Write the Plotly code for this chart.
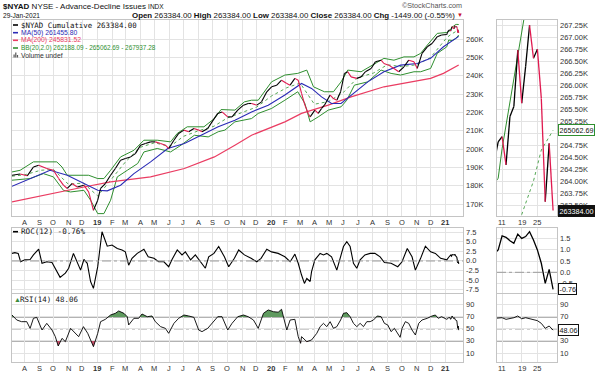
import plotly.graph_objects as go
import pandas as pd

# ---------------- data (values in thousands for NYAD-based series) ----------------
nyad_dates = ["2018-07-06","2018-07-23","2018-08-07","2018-08-20","2018-08-31","2018-09-17","2018-10-01",
    "2018-10-12","2018-10-22","2018-10-30","2018-11-09","2018-11-20","2018-12-04","2018-12-14","2018-12-24",
    "2019-01-02","2019-01-08","2019-01-18","2019-01-29","2019-02-08","2019-02-19","2019-03-01","2019-03-12",
    "2019-03-22","2019-04-02","2019-04-12","2019-04-23","2019-05-03","2019-05-14","2019-05-24","2019-05-31",
    "2019-06-11","2019-06-21","2019-07-02","2019-07-12","2019-07-23","2019-08-02","2019-08-09","2019-08-21",
    "2019-08-30","2019-09-11","2019-09-20","2019-10-02","2019-10-11","2019-10-23","2019-11-04","2019-11-14",
    "2019-11-21","2019-12-02","2019-12-12","2019-12-23","2020-01-02","2020-01-13","2020-01-23","2020-02-03",
    "2020-02-10","2020-02-20","2020-02-27","2020-03-05","2020-03-12","2020-03-19","2020-03-23","2020-04-02",
    "2020-04-09","2020-04-16","2020-04-22","2020-05-04","2020-05-11","2020-05-18","2020-05-26","2020-06-03",
    "2020-06-10","2020-06-17","2020-06-29","2020-07-08","2020-07-17","2020-07-29","2020-08-07","2020-08-19",
    "2020-08-25","2020-09-04","2020-09-15","2020-09-25","2020-10-06","2020-10-16","2020-10-27","2020-11-03",
    "2020-11-13","2020-11-24","2020-12-04","2020-12-15","2020-12-24","2021-01-04","2021-01-05","2021-01-06",
    "2021-01-07","2021-01-08","2021-01-11","2021-01-12","2021-01-13","2021-01-14","2021-01-15","2021-01-19",
    "2021-01-20","2021-01-21","2021-01-22","2021-01-25","2021-01-26","2021-01-27","2021-01-28","2021-01-29"]
nyad = [185.8,186.5,185.5,190.3,191.3,189.5,188.5,184.0,180.4,178.6,181.3,179.4,180.4,176.7,166.7,
    172.2,178.6,181.3,185.8,189.5,194.0,194.9,195.8,197.6,202.2,203.1,204.0,204.0,203.1,202.2,200.4,
    204.9,208.6,210.4,209.5,211.3,210.4,209.5,211.3,214.9,219.5,220.3,217.6,217.6,221.3,224.0,224.9,
    224.9,224.0,225.8,231.3,234.0,234.9,237.6,235.8,234.9,238.6,237.6,230.4,224.0,219.5,217.6,221.3,
    219.5,222.2,224.0,229.5,227.6,226.7,231.3,241.3,242.2,239.4,238.6,239.4,242.2,244.0,247.6,248.5,
    246.7,245.8,244.0,242.2,244.9,248.5,247.6,244.0,252.2,255.8,257.6,261.3,262.2,262.5,263.2,263.8,
    264.4,264.82,264.93,264.34,265.35,265.56,266.74,265.63,266.4,267.26,266.57,266.76,265.73,263.57,264.79,263.384]

ma50_dates = ["2018-07-06","2018-08-20","2018-09-24","2018-10-30","2018-12-04","2019-01-02","2019-01-22",
    "2019-02-19","2019-03-19","2019-04-23","2019-05-29","2019-07-03","2019-08-07","2019-09-12","2019-10-17",
    "2019-11-21","2019-12-26","2020-01-30","2020-03-05","2020-03-26","2020-04-16","2020-05-07","2020-05-27",
    "2020-06-17","2020-07-22","2020-08-25","2020-09-29","2020-11-03","2020-12-01","2020-12-28","2021-01-29"]
ma50 = [179.8,184.9,188.5,185.8,181.3,177.6,177.3,180.4,186.7,193.1,200.4,203.1,207.6,212.2,215.8,
    220.3,224.0,229.5,235.8,233.1,228.5,224.9,224.9,229.5,236.7,242.2,245.8,246.7,249.5,255.8,261.456]

ma200_dates = ["2018-07-06","2018-09-24","2018-12-04","2019-01-29","2019-04-23","2019-07-03","2019-09-04",
    "2019-10-17","2019-11-21","2020-01-30","2020-03-05","2020-04-30","2020-06-17","2020-08-25","2020-10-20",
    "2020-12-01","2020-12-28","2021-01-29"]
ma200 = [171.3,175.8,179.4,182.2,184.9,189.5,195.8,202.2,207.6,214.9,219.5,224.0,228.5,234.0,236.7,
    238.6,241.3,245.832]

bbu_dates = ["2018-07-06","2018-07-23","2018-08-20","2018-09-17","2018-10-08","2018-10-19","2018-10-30",
    "2018-12-04","2018-12-14","2019-01-02","2019-01-15","2019-01-29","2019-02-19","2019-03-19","2019-04-09",
    "2019-05-07","2019-06-04","2019-06-18","2019-07-09","2019-08-13","2019-09-04","2019-09-18","2019-10-17",
    "2019-11-06","2019-11-21","2019-12-05","2020-01-02","2020-01-30","2020-02-26","2020-03-16","2020-03-30",
    "2020-04-22","2020-05-11","2020-05-27","2020-06-10","2020-07-08","2020-08-05","2020-08-25","2020-09-15",
    "2020-10-06","2020-10-27","2020-11-10","2020-11-24","2020-12-15","2021-01-04","2021-01-08","2021-01-11",
    "2021-01-12","2021-01-13","2021-01-14","2021-01-15","2021-01-19","2021-01-20","2021-01-21","2021-01-22",
    "2021-01-25","2021-01-26","2021-01-27","2021-01-28","2021-01-29"]
bbu = [187.6,188.5,193.1,193.1,193.1,190.3,185.8,185.8,185.8,184.0,184.0,188.5,195.8,199.4,204.9,
    204.9,204.0,208.6,212.2,212.2,216.7,221.6,221.3,225.8,226.7,226.7,236.7,240.4,241.3,243.1,234.0,
    231.3,231.3,236.7,243.1,242.2,246.7,249.5,248.5,250.3,250.3,252.2,256.7,263.1,263.6,264.06,264.68,
    265.17,265.67,266.17,266.65,267.16,267.6,267.8,267.9,268.0,268.0,268.0,267.95,267.937]

bbl_dates = ["2018-07-06","2018-08-13","2018-09-10","2018-10-01","2018-10-22","2018-11-06","2018-12-04",
    "2018-12-18","2019-01-02","2019-01-15","2019-01-29","2019-02-12","2019-03-05","2019-03-27","2019-04-09",
    "2019-05-07","2019-06-04","2019-06-26","2019-07-24","2019-08-22","2019-09-12","2019-09-26","2019-10-17",
    "2019-11-06","2019-11-21","2019-12-05","2020-01-02","2020-01-30","2020-02-26","2020-03-12","2020-03-23",
    "2020-04-09","2020-04-30","2020-05-27","2020-06-08","2020-06-24","2020-07-22","2020-08-19","2020-09-09",
    "2020-09-29","2020-10-27","2020-11-10","2020-12-01","2020-12-15","2021-01-04","2021-01-08","2021-01-15",
    "2021-01-22","2021-01-29"]
bbl = [183.1,184.0,186.7,184.9,177.6,176.7,177.6,172.2,164.9,164.9,172.2,184.9,188.5,192.2,198.5,
    200.4,198.5,202.2,207.6,206.7,209.5,210.4,214.9,215.8,216.7,219.5,222.2,226.7,231.3,224.9,214.9,
    217.6,221.3,223.1,226.7,234.9,236.7,243.1,241.3,240.4,242.2,242.2,244.0,252.2,255.8,259.5,259.2,
    260.1,262.188]

bbm_dates = ["2018-07-06","2018-08-01","2018-09-04","2018-10-01","2018-11-01","2018-12-03","2019-01-02",
    "2019-02-01","2019-03-01","2019-04-01","2019-05-01","2019-06-03","2019-07-01","2019-08-01","2019-09-03",
    "2019-10-01","2019-11-01","2019-12-02","2020-01-02","2020-02-03","2020-03-02","2020-04-01","2020-05-01",
    "2020-06-01","2020-07-01","2020-08-03","2020-09-01","2020-10-01","2020-11-02","2020-12-01","2021-01-04",
    "2021-01-08","2021-01-12","2021-01-15","2021-01-19","2021-01-22","2021-01-26","2021-01-29"]
bbm = [185.3,186.0,188.5,189.0,181.0,181.5,174.5,184.0,193.0,201.0,203.5,201.5,207.0,210.0,212.5,
    217.0,220.0,223.0,229.0,233.5,236.0,224.5,226.0,231.0,239.0,241.5,246.0,245.0,246.0,250.0,260.8,
    261.8,262.4,262.9,263.3,264.0,264.65,265.063]

roc_dates = ["2018-07-06","2018-07-12","2018-07-19","2018-07-24","2018-08-02","2018-08-13","2018-08-20",
    "2018-08-31","2018-09-07","2018-09-17","2018-09-28","2018-10-08","2018-10-15","2018-10-26","2018-11-02",
    "2018-11-12","2018-11-20","2018-11-27","2018-12-04","2018-12-11","2018-12-18","2018-12-24","2019-01-02",
    "2019-01-08","2019-01-11","2019-01-16","2019-01-22","2019-02-01","2019-02-12","2019-02-22","2019-03-01",
    "2019-03-08","2019-03-15","2019-03-26","2019-04-09","2019-04-18","2019-04-30","2019-05-10","2019-05-21",
    "2019-05-31","2019-06-07","2019-06-18","2019-06-28","2019-07-05","2019-07-16","2019-07-26","2019-08-06",
    "2019-08-16","2019-08-23","2019-09-03","2019-09-13","2019-09-25","2019-10-04","2019-10-16","2019-10-25",
    "2019-11-06","2019-11-20","2019-12-02","2019-12-11","2019-12-23","2020-01-02","2020-01-16","2020-01-30",
    "2020-02-10","2020-02-20","2020-02-27","2020-03-05","2020-03-11","2020-03-16","2020-03-23","2020-03-26",
    "2020-04-02","2020-04-13","2020-04-20","2020-04-27","2020-05-07","2020-05-18","2020-05-26","2020-06-01",
    "2020-06-08","2020-06-15","2020-06-22","2020-06-29","2020-07-06","2020-07-16","2020-07-27","2020-08-06",
    "2020-08-17","2020-08-26","2020-09-09","2020-09-23","2020-10-02","2020-10-13","2020-10-23","2020-10-30",
    "2020-11-10","2020-11-20","2020-12-01","2020-12-11","2020-12-22","2021-01-04","2021-01-08","2021-01-11",
    "2021-01-12","2021-01-13","2021-01-14","2021-01-15","2021-01-19","2021-01-20","2021-01-21","2021-01-22",
    "2021-01-25","2021-01-26","2021-01-27","2021-01-28","2021-01-29"]
roc = [2.0,2.2,2.0,-0.2,0.3,0.4,1.6,3.1,-0.6,-0.2,-0.4,-2.8,-4.3,-3.2,-1.9,2.0,-0.6,-2.4,0.4,-0.6,-5.4,
    -7.2,-1.5,4.7,7.7,6.0,3.9,4.2,3.3,2.9,2.4,-1.1,0.7,2.0,3.1,1.1,0.7,-0.2,-0.2,-1.5,0.4,2.9,1.6,2.4,
    0.3,1.6,-0.2,-1.9,1.1,2.0,3.8,1.1,-1.5,0.7,2.9,1.6,0.7,-0.2,0.7,3.1,2.4,2.0,1.1,-0.2,1.8,-0.6,-3.7,
    -5.9,-4.6,-5.4,-2.8,0.3,2.0,1.6,2.0,1.1,-2.4,1.1,3.8,5.1,3.8,-0.6,-1.9,0.3,1.6,2.0,2.0,1.1,-0.4,
    -0.6,-1.5,-0.2,3.3,1.1,-2.4,0.7,3.9,2.4,2.0,0.7,0.3,0.99,1.61,1.55,1.40,1.28,1.69,1.50,1.58,1.80,
    1.43,0.99,0.40,-0.49,0.13,-0.76]

rsi_dates = ["2018-07-06","2018-07-16","2018-07-26","2018-08-06","2018-08-13","2018-08-20","2018-08-27",
    "2018-09-07","2018-09-17","2018-09-28","2018-10-05","2018-10-11","2018-10-19","2018-10-26","2018-11-06",
    "2018-11-13","2018-11-23","2018-12-03","2018-12-12","2018-12-24","2019-01-02","2019-01-08","2019-01-18",
    "2019-01-29","2019-02-08","2019-02-15","2019-02-26","2019-03-05","2019-03-08","2019-03-19","2019-03-29",
    "2019-04-05","2019-04-16","2019-04-26","2019-05-03","2019-05-14","2019-05-24","2019-05-31","2019-06-11",
    "2019-06-21","2019-07-02","2019-07-12","2019-07-23","2019-08-02","2019-08-09","2019-08-21","2019-08-30",
    "2019-09-11","2019-09-20","2019-10-02","2019-10-11","2019-10-23","2019-11-04","2019-11-14","2019-11-25",
    "2019-12-05","2019-12-16","2019-12-26","2020-01-06","2020-01-16","2020-01-23","2020-01-30","2020-02-03",
    "2020-02-10","2020-02-20","2020-02-27","2020-03-03","2020-03-05","2020-03-16","2020-03-26","2020-04-06",
    "2020-04-13","2020-04-20","2020-04-27","2020-05-04","2020-05-11","2020-05-18","2020-05-26","2020-06-01",
    "2020-06-08","2020-06-15","2020-06-22","2020-06-29","2020-07-06","2020-07-13","2020-07-20","2020-07-27",
    "2020-08-03","2020-08-11","2020-08-19","2020-08-26","2020-09-02","2020-09-09","2020-09-16","2020-09-23",
    "2020-09-28","2020-10-02","2020-10-09","2020-10-16","2020-10-23","2020-10-30","2020-11-06","2020-11-13",
    "2020-11-24","2020-12-04","2020-12-11","2020-12-17","2020-12-24","2021-01-04","2021-01-08","2021-01-11",
    "2021-01-12","2021-01-13","2021-01-14","2021-01-15","2021-01-19","2021-01-20","2021-01-21","2021-01-22",
    "2021-01-25","2021-01-26","2021-01-27","2021-01-28","2021-01-29"]
rsi = [73.3,65.0,62.2,62.2,51.0,67.8,69.4,48.3,59.4,48.3,37.2,21.7,34.4,28.9,51.0,45.6,37.2,53.9,42.8,
    20.6,42.8,62.2,66.1,73.3,76.1,80.0,76.1,70.5,56.7,67.8,67.8,75.0,70.5,71.7,62.2,53.9,51.1,42.8,59.4,
    67.8,73.3,71.7,69.4,48.3,45.6,51.1,59.4,70.5,70.5,48.3,59.4,70.5,73.3,70.5,65.0,51.1,76.1,81.7,78.8,
    78.0,82.8,59.4,48.3,65.0,66.1,37.2,26.1,37.2,28.9,31.7,42.8,53.9,59.4,53.9,62.2,51.1,53.9,65.0,76.1,
    77.2,70.5,59.4,53.9,59.4,53.9,62.2,62.2,65.0,71.7,70.5,59.4,56.7,45.6,51.1,42.8,36.1,51.1,62.2,59.4,
    48.3,40.0,59.4,65.0,67.8,71.7,73.3,67.8,70.5,66.1,68.8,68.8,66.1,67.0,68.8,71.7,67.0,68.8,67.0,65.0,
    63.9,59.4,51.1,55.0,48.06]

jan_days = ["2021-01-04","2021-01-05","2021-01-06","2021-01-07","2021-01-08","2021-01-11","2021-01-12",
    "2021-01-13","2021-01-14","2021-01-15","2021-01-19","2021-01-20","2021-01-21","2021-01-22","2021-01-25",
    "2021-01-26","2021-01-27","2021-01-28","2021-01-29"]
jan_ticks = ["2021-01-11", "2021-01-19", "2021-01-25"]
jan_tick_labels = ["11", "19", "25"]

month_ticks = ["2018-08-01","2018-09-01","2018-10-01","2018-11-01","2018-12-01","2019-01-01","2019-02-01",
    "2019-03-01","2019-04-01","2019-05-01","2019-06-01","2019-07-01","2019-08-01","2019-09-01","2019-10-01",
    "2019-11-01","2019-12-01","2020-01-01","2020-02-01","2020-03-01","2020-04-01","2020-05-01","2020-06-01",
    "2020-07-01","2020-08-01","2020-09-01","2020-10-01","2020-11-01","2020-12-01","2021-01-01"]
month_labels = ["A","S","O","N","D","<b>19</b>","F","M","A","M","J","J","A","S","O","N","D","<b>20</b>",
    "F","M","A","M","J","J","A","S","O","N","D","<b>21</b>"]

main_ticks = [170,180,190,200,210,220,230,240,250,260]
zoom_ticks = [263.5,263.75,264.0,264.25,264.5,264.75,265.0,265.25,265.5,265.75,266.0,266.25,266.5,266.75,267.0,267.25]
zoom_hidden = [265.0]          # tick label fully covered by the BB value tag
roc_ticks = [-7.5,-5.0,-2.5,0.0,2.5,5.0,7.5]
roc_zoom_ticks = [-0.5,0.0,0.5,1.0,1.5]
rsi_ticks = [10,30,50,70,90]
rsi_zoom_hidden = [50]         # covered by the RSI value tag

title_sym, title_name, title_exch = "$NYAD", "NYSE - Advance-Decline Issues", "INDX"
date_label = "29-Jan-2021"
ohlc = [("Open", "263384.00"), ("High", "263384.00"), ("Low", "263384.00"), ("Close", "263384.00"), ("Chg", "-1449.00 (-0.55%)")]
leg_main = "$NYAD Cumulative 263384.00"
leg_ma50 = "MA(50) 261455.80"
leg_ma200 = "MA(200) 245831.52"
leg_bb = "BB(20,2.0) 262188.09 - 265062.69 - 267937.28"
leg_vol = "Volume undef"
leg_roc = "ROC(12) -0.76%"
leg_rsi = "RSI(14) 48.06"
last_close, last_mid, last_roc, last_rsi = 263.384, 265.06269, -0.76, 48.06
last_close_txt, last_mid_txt, last_roc_txt, last_rsi_txt = "263384.00", "265062.69", "-0.76", "48.06"

# ---------------- styling ----------------
W, H = 600, 374
FONT = "Liberation Sans, Arial, sans-serif"
MONO = "DejaVu Sans Mono, monospace"
UP, DOWN = "#000000", "#e0194f"
BLUE, RED, GREEN = "#2a2ab5", "#ea3c62", "#2f8f2f"
GRID, BORDER, TXT = "#e3e3e3", "#c4c4c4", "#333333"

def px(x): return x / W
def py(y): return 1 - y / H

XL = [px(12), px(463)]
XR = [px(497), px(557)]
YM = [py(216), py(20)]
YR = [py(292.5), py(228)]
YS = [py(362.3), py(294)]

def segments(xs, ys, up, keep=None):
    X, Y = [], []
    for i in range(len(xs) - 1):
        if keep is not None and (xs[i] not in keep or xs[i + 1] not in keep):
            continue
        rising = ys[i + 1] >= ys[i]
        if rising == up:
            X += [xs[i], xs[i + 1], None]
            Y += [ys[i], ys[i + 1], None]
    return X, Y

def subset(xs, ys, keep):
    pairs = [(a, b) for a, b in zip(xs, ys) if a in keep]
    return [p[0] for p in pairs], [p[1] for p in pairs]

def band_polys(ds, vs, level, above):
    t = list(pd.to_datetime(ds))
    inside = (lambda v: v > level) if above else (lambda v: v < level)
    polys, cur = [], []
    for i, v in enumerate(vs):
        if inside(v):
            if not cur:
                if i > 0:
                    f = (level - vs[i - 1]) / (v - vs[i - 1])
                    cur.append((t[i - 1] + (t[i] - t[i - 1]) * f, level))
                else:
                    cur.append((t[i], level))
            cur.append((t[i], v))
        elif cur:
            f = (level - vs[i - 1]) / (v - vs[i - 1])
            cur.append((t[i - 1] + (t[i] - t[i - 1]) * f, level))
            polys.append(cur)
            cur = []
    if cur:
        cur.append((t[-1], level))
        polys.append(cur)
    X, Y = [], []
    for p in polys:
        X += [q[0] for q in p] + [None]
        Y += [q[1] for q in p] + [None]
    return X, Y

fig = go.Figure()
keep = set(jan_days)

def line(x, y, xa, ya, color, width=1.0, dash=None):
    fig.add_trace(go.Scatter(x=x, y=y, xaxis=xa, yaxis=ya, mode="lines", hoverinfo="skip",
                             line=dict(color=color, width=width, dash=dash), connectgaps=False))

# --- main left
line(bbu_dates, bbu, "x", "y", GREEN, 1.0)
line(bbl_dates, bbl, "x", "y", GREEN, 1.0)
line(bbm_dates, bbm, "x", "y", "#55a855", 1.0, "dot")
line(ma200_dates, ma200, "x", "y", RED, 1.2)
line(ma50_dates, ma50, "x", "y", BLUE, 1.1)
for up, col in ((True, UP), (False, DOWN)):
    sx, sy = segments(nyad_dates, nyad, up)
    line(sx, sy, "x", "y", col, 1.1)

# --- ROC left
line(roc_dates, roc, "x2", "y2", "#000000", 1.1)

# --- RSI left (fills)
fx, fy = band_polys(rsi_dates, rsi, 70, True)
fig.add_trace(go.Scatter(x=fx, y=fy, xaxis="x3", yaxis="y3", mode="lines", fill="toself",
                         fillcolor="#5f9a5f", line=dict(width=0), hoverinfo="skip"))
fx, fy = band_polys(rsi_dates, rsi, 30, False)
fig.add_trace(go.Scatter(x=fx, y=fy, xaxis="x3", yaxis="y3", mode="lines", fill="toself",
                         fillcolor="#c8506a", line=dict(width=0), hoverinfo="skip"))
line(rsi_dates, rsi, "x3", "y3", "#000000", 0.9)

# --- right panels (zoom on January)
bx, by = subset(bbu_dates, bbu, keep)
line(bx, by, "x4", "y4", GREEN, 1.0)
mx, my = subset(bbm_dates, bbm, keep)
line(mx, my, "x4", "y4", "#55a855", 1.0, "dot")
for up, col in ((True, UP), (False, DOWN)):
    sx, sy = segments(nyad_dates, nyad, up, keep)
    line(sx, sy, "x4", "y4", col, 1.3)

rx, ry = subset(roc_dates, roc, keep)
line(rx, ry, "x5", "y5", "#000000", 1.3)
sx, sy = subset(rsi_dates, rsi, keep)
line(sx, sy, "x6", "y6", "#000000", 0.9)

# ---------------- axes (tick labels are drawn as annotations below) ----------------
def xdate(domain, anchor):
    return dict(domain=domain, anchor=anchor, type="date", range=["2018-07-06", "2021-02-07"],
                tickvals=month_ticks, showticklabels=False, ticks="",
                showgrid=True, gridcolor=GRID, gridwidth=1, showline=True, linecolor=BORDER, mirror=True,
                zeroline=False)
def xcat(domain, anchor):
    return dict(domain=domain, anchor=anchor, type="category", categoryorder="array", categoryarray=jan_days,
                range=[3.7, 19.0], tickvals=jan_ticks, showticklabels=False, ticks="",
                showgrid=True, gridcolor=GRID, showline=True, linecolor=BORDER, mirror=True, zeroline=False)
def yax(domain, anchor, rng, vals):
    return dict(domain=domain, anchor=anchor, side="right", range=rng, tickvals=vals, showticklabels=False,
                ticks="", showgrid=True, gridcolor=GRID, showline=True, linecolor=BORDER, mirror=True,
                zeroline=False)

fig.update_layout(
    width=W, height=H, margin=dict(l=0, r=0, t=0, b=0), paper_bgcolor="white", plot_bgcolor="white",
    showlegend=False, font=dict(family=FONT, size=8, color=TXT),
    xaxis=xdate(XL, "y"), xaxis2=xdate(XL, "y2"), xaxis3=xdate(XL, "y3"),
    xaxis4=xcat(XR, "y4"), xaxis5=xcat(XR, "y5"), xaxis6=xcat(XR, "y6"),
    yaxis=yax(YM, "x", [163.6, 270.4], main_ticks),
    yaxis2=yax(YR, "x2", [-8.29, 8.68], roc_ticks),
    yaxis3=yax(YS, "x3", [-5.5, 108.3], rsi_ticks),
    yaxis4=yax(YM, "x4", [263.27, 267.37], zoom_ticks),
    yaxis5=yax(YR, "x5", [-0.894, 1.96], roc_zoom_ticks),
    yaxis6=yax(YS, "x6", [-5.5, 108.3], rsi_ticks),
)

# ---------------- reference lines ----------------
shapes = []
for xa, ya in (("x2", "y2"), ("x5", "y5")):
    shapes.append(dict(type="line", xref=f"{xa} domain", yref=ya, x0=0, x1=1, y0=0, y1=0,
                       line=dict(color="#9a9a9a", width=1, dash="dashdot")))
for xa, ya in (("x3", "y3"), ("x6", "y6")):
    for lv in (70, 30):
        shapes.append(dict(type="line", xref=f"{xa} domain", yref=ya, x0=0, x1=1, y0=lv, y1=lv,
                           line=dict(color="#9a9a9a", width=1.6), layer="below"))
    shapes.append(dict(type="line", xref=f"{xa} domain", yref=ya, x0=0, x1=1, y0=50, y1=50,
                       line=dict(color="#9a9a9a", width=1, dash="dashdot"), layer="below"))
# legend swatches
for yy, col in ((25, "#000000"), (32.7, BLUE), (40.3, RED), (48, GREEN), (231.7, "#000000")):
    shapes.append(dict(type="line", xref="paper", yref="paper", x0=px(13), x1=px(18), y0=py(yy), y1=py(yy),
                       line=dict(color=col, width=1.6)))
for i, hh in enumerate((3, 5, 2.5)):
    shapes.append(dict(type="rect", xref="paper", yref="paper", x0=px(13.5 + i * 1.7), x1=px(14.7 + i * 1.7),
                       y0=py(57.5), y1=py(57.5 - hh), line=dict(width=0), fillcolor="#555555"))
fig.update_layout(shapes=shapes)

# ---------------- texts ----------------
ann = []
def text(x, y, s, size=7, color=TXT, anchor="left", family=FONT):
    ann.append(dict(x=px(x), y=py(y), xref="paper", yref="paper", text=s, showarrow=False, xanchor=anchor,
                    yanchor="middle", borderpad=0, font=dict(family=family, size=size, color=color)))

text(1.5, 6.5, f"<b>{title_sym}</b> {title_name} <span style='font-size:6.5px'>{title_exch}</span>", size=8.0, color="#111")
text(1.5, 15.5, date_label, size=6.6, color="#111")
hdr = " ".join(f"<b>{k}</b> {v}" for k, v in ohlc)
text(456, 15.5, hdr, size=7.9, color="#111", anchor="right")
text(464, 15.2, "▼", size=6, color="#c8102e", anchor="right")
text(463, 6, "©StockCharts.com", size=7.2, color="#555", anchor="right")

text(20, 25, leg_main, size=7.4, color="#111", family=MONO)
text(20, 32.7, leg_ma50, size=6.8, color=BLUE)
text(20, 40.3, leg_ma200, size=6.8, color=RED)
text(20, 48, leg_bb, size=6.4, color=GREEN)
text(19.5, 55.5, leg_vol, size=6.8, color="#333")
text(20, 231.7, leg_roc, size=7.6, color="#111", family=MONO)
text(12.5, 299, "▲", size=7, color="#3d8b3d")
text(19, 299, leg_rsi, size=7.4, color="#111", family=MONO)

# tick labels
TICK = dict(family=FONT, size=7.5, color=TXT)
def xlab(xref, xval, ypix, s):
    ann.append(dict(x=xval, xref=xref, y=py(ypix), yref="paper", text=s, showarrow=False, xanchor="center",
                    yanchor="middle", borderpad=0, font=TICK))
def ylab(xpix, yref, yval, s):
    ann.append(dict(x=px(xpix), xref="paper", y=yval, yref=yref, text=s, showarrow=False, xanchor="left",
                    yanchor="middle", borderpad=0, font=TICK))
for d, s in zip(month_ticks, month_labels):
    xlab("x", d, 222, s)
    xlab("x3", d, 368, s)
for d, s in zip(jan_ticks, jan_tick_labels):
    xlab("x4", d, 222, s)
    xlab("x6", d, 368, s)
for v in main_ticks:
    ylab(465, "y", v, f"{v}K")
for v in roc_ticks:
    ylab(465, "y2", v, f"{v:.1f}")
for v in rsi_ticks:
    ylab(465, "y3", v, str(v))
for v in zoom_ticks:
    if v not in zoom_hidden:
        ylab(559, "y4", v, f"{v:.2f}K")
for v in roc_zoom_ticks:
    ylab(559, "y5", v, f"{v:.1f}")
for v in rsi_ticks:
    if v not in rsi_zoom_hidden:
        ylab(559, "y6", v, str(v))

# value tags on the right zoom panels
def tag(y, yref, s, bg, fg, border):
    ann.append(dict(x=px(557.5), y=y, xref="paper", yref=yref, text=s, showarrow=False, xanchor="left",
                    yanchor="middle", font=dict(family=FONT, size=7.2, color=fg), bgcolor=bg,
                    bordercolor=border, borderwidth=1, borderpad=0.5))
tag(last_mid, "y4", last_mid_txt, "white", "#111", GREEN)
tag(last_close, "y4", last_close_txt, "#111111", "white", "#111111")
tag(last_roc, "y5", last_roc_txt, "white", "#111", "#111")
tag(last_rsi, "y6", last_rsi_txt, "white", "#111", "#111")
fig.update_layout(annotations=ann)

# the page's default 8px body margin would shift the 600x374 figure; remove it
fig.write_html("out.html", config={"displayModeBar": False},
               post_script="document.body.style.margin='0';document.body.style.overflow='hidden';")
